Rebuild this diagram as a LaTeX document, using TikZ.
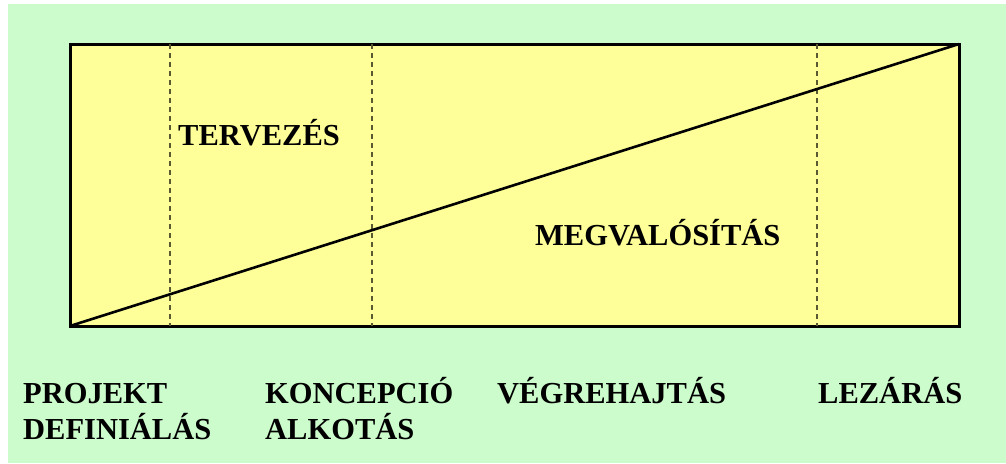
\documentclass[tikz,border=0pt]{standalone}
\usepackage{fontspec}
\setmainfont{Liberation Serif}
\usepackage{tikz}
\usetikzlibrary{positioning, calc, backgrounds}

\definecolor{bggreen}{RGB}{204,252,204}
\definecolor{boxyellow}{RGB}{255,255,153}
\definecolor{sepline}{RGB}{90,90,50}

\begin{document}
\begin{tikzpicture}[
  x=1pt, y=-1pt,
  phase/.style={anchor=base west, inner sep=0pt, align=left, font=\fontsize{30.5}{36}\selectfont\bfseries},
  frame/.style={draw, line width=3pt, fill=boxyellow},
  diag/.style={line width=2.6pt},
  sep/.style={draw=sepline, line width=1.9pt, dash pattern=on 5pt off 4pt}
]
\useasboundingbox (0,0) rectangle (1006,463);
\fill[white] (0,0) rectangle (1006,463);
\fill[bggreen] (8,4) rectangle (1006,463);

% Main box
\coordinate (bl) at (70,326);
\coordinate (tr) at (959,44);
\draw[frame] (bl) rectangle (tr);

% Phase borders
\coordinate (s1t) at (170,44);  \coordinate (s1b) at (170,326);
\coordinate (s2t) at (372,44);  \coordinate (s2b) at (372,326);
\coordinate (s3t) at (817,44);  \coordinate (s3b) at (817,326);
\draw[sep] (s1t) -- (s1b);
\draw[sep] (s2t) -- (s2b);
\draw[sep] (s3t) -- (s3b);

% Diagonal
\draw[diag] (bl) -- (tr);

% Inner labels
\node[phase] (plan) at (178,145) {TERVEZÉS};
\node[phase] (impl) at (535,245) {MEGVALÓSÍTÁS};

% Phases below the box (base = last line)
\node[phase] (def) at (23,439) {PROJEKT\\DEFINIÁLÁS};
\node[phase] (conc) at (265,439) {KONCEPCIÓ\\ALKOTÁS};
\node[phase] (exec) at (497,403) {VÉGREHAJTÁS};
\node[phase] (close) at (818,403) {LEZÁRÁS};

\end{tikzpicture}
\end{document}
